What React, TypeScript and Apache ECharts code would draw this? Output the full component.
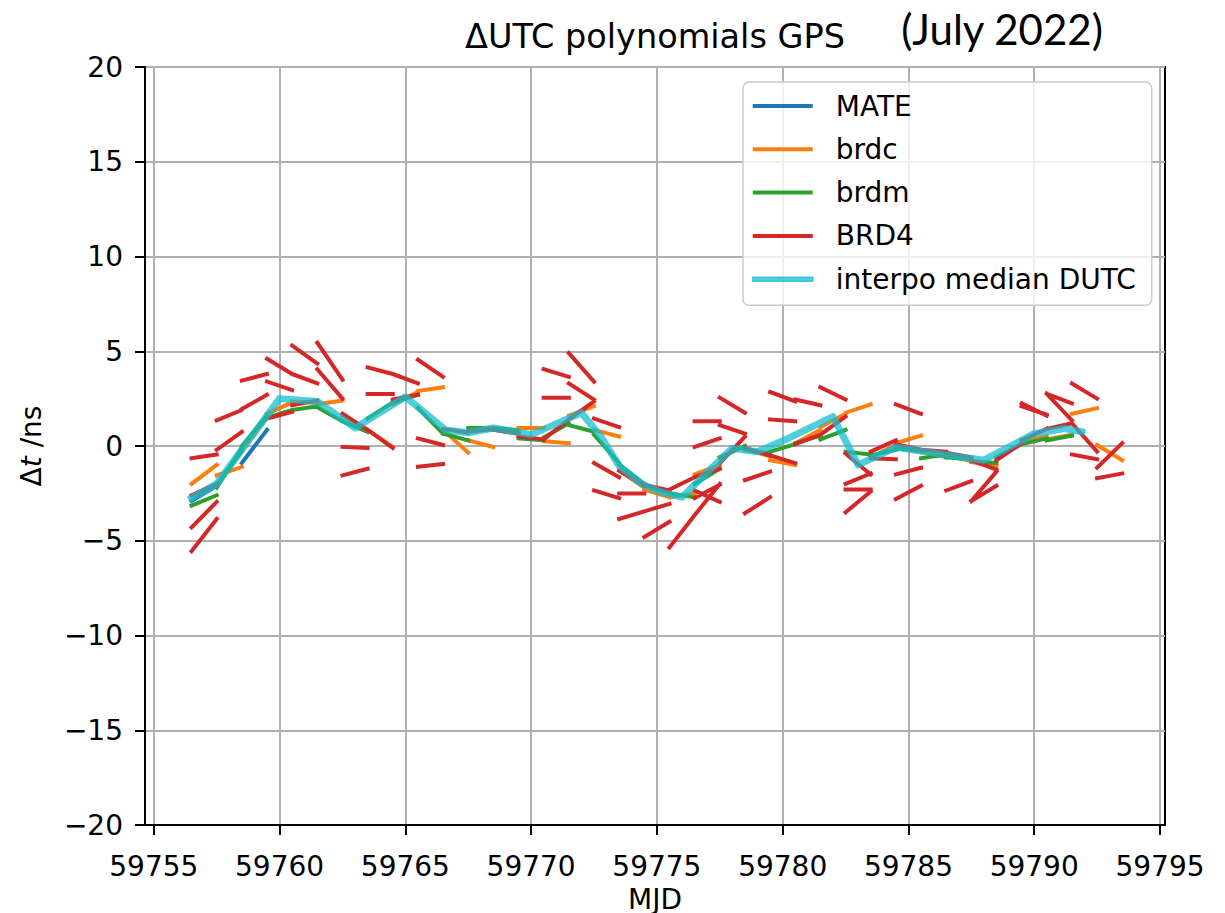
import React, { useEffect, useRef } from "react";
import * as echarts from "echarts";

// ---- axis ticks ----
const X_TICKS = [59755, 59760, 59765, 59770, 59775, 59780, 59785, 59790, 59795];
const X_MIN = 59754.65;
const X_MAX = 59795.2;
const Y_MIN = -20;
const Y_MAX = 20;
const Y_STEP = 5;

// each polynomial is evaluated over one day: [start MJD, Δt at start, Δt at end]
const DAY_SPAN = 1;

const MATE: [number, number, number][] = [
  [59756.5, -2.9, -2.1],
  [59757.5, -2.05, -0.25],
  [59758.5, -0.9, 0.85],
];

const BRDC: [number, number, number][] = [
  [59756.5, -2.0, -1.0],
  [59757.5, -1.55, -1.1],
  [59758.5, -0.2, 1.5],
  [59759.5, 1.7, 2.3],
  [59760.5, 2.35, 2.3],
  [59761.5, 2.2, 2.4],
  [59762.5, 1.6, 0.85],
  [59763.5, 0.85, -0.05],
  [59764.5, 2.2, 2.85],
  [59765.5, 2.9, 3.1],
  [59766.5, 0.85, -0.35],
  [59767.5, 0.3, -0.05],
  [59768.5, 0.95, 0.85],
  [59769.5, 0.95, 0.95],
  [59770.5, 0.25, 0.15],
  [59771.5, 1.6, 2.1],
  [59772.5, 0.85, 0.5],
  [59773.5, -1.3, -2.2],
  [59774.5, -2.3, -2.7],
  [59775.5, -2.7, -2.5],
  [59776.5, -1.5, -1.0],
  [59777.5, -0.6, 0.0],
  [59778.5, -0.15, -0.55],
  [59779.5, -0.75, -1.0],
  [59780.5, 0.15, 0.85],
  [59781.5, 1.0, 1.7],
  [59782.5, 1.75, 2.2],
  [59783.5, -0.6, 0.05],
  [59784.5, 0.15, 0.55],
  [59785.5, -0.3, -0.6],
  [59786.5, -0.5, -0.8],
  [59787.5, -0.85, -1.05],
  [59788.5, -0.6, 0.1],
  [59789.5, 0.2, 0.5],
  [59790.5, 0.35, 0.6],
  [59791.5, 1.7, 2.0],
  [59792.5, 0.05, -0.75],
];

const BRDM: [number, number, number][] = [
  [59756.5, -3.15, -2.6],
  [59757.5, -2.2, -0.1],
  [59758.5, 0.0, 1.6],
  [59759.5, 1.5, 1.9],
  [59760.5, 1.9, 2.1],
  [59761.5, 2.05, 1.3],
  [59762.5, 1.3, 0.75],
  [59763.5, 1.45, 2.3],
  [59764.5, 2.3, 2.7],
  [59765.5, 2.0, 0.65],
  [59766.5, 0.65, 0.3],
  [59767.5, 0.95, 0.95],
  [59768.5, 0.95, 0.8],
  [59769.5, 0.4, 0.3],
  [59770.5, 0.45, 1.2],
  [59771.5, 1.1, 0.75],
  [59772.5, 0.6, -0.9],
  [59773.5, -1.0, -2.0],
  [59774.5, -2.1, -2.45],
  [59775.5, -2.5, -2.7],
  [59776.5, -2.0, -1.2],
  [59777.5, -0.6, 0.0],
  [59778.5, -0.2, -0.4],
  [59779.5, -0.3, 0.1],
  [59780.5, 0.15, 0.55],
  [59781.5, 0.35, 0.85],
  [59782.5, -0.3, -0.45],
  [59783.5, -0.5, -0.2],
  [59784.5, -0.1, -0.3],
  [59785.5, -0.65, -0.45],
  [59786.5, -0.6, -0.7],
  [59787.5, -0.8, -0.9],
  [59788.5, -0.6, 0.1],
  [59789.5, 0.1, 0.4],
  [59790.5, 0.3, 0.55],
];

const BRD4: [number, number, number][] = [
  [59756.5, -5.55, -3.85], [59756.5, -4.3, -2.95], [59756.5, -2.6, -2.0], [59756.5, -0.65, -0.45],
  [59757.5, 1.35, 1.9], [59757.5, -0.2, 0.75],
  [59758.5, 1.95, 2.7], [59758.5, 3.45, 3.8],
  [59759.5, 4.6, 3.8], [59759.5, 3.4, 2.95], [59759.5, 1.45, 1.8],
  [59760.5, 5.3, 4.35], [59760.5, 3.8, 3.3], [59760.5, 2.15, 2.4],
  [59761.5, 5.45, 3.5], [59761.5, 4.05, 2.5],
  [59762.5, 1.7, 0.85], [59762.5, -0.05, -0.1], [59762.5, -1.55, -1.2],
  [59763.5, 4.15, 3.8], [59763.5, 2.75, 2.75], [59763.5, 0.85, -0.1],
  [59764.5, 3.8, 3.3], [59764.5, 2.45, 2.7],
  [59765.5, 4.55, 3.65], [59765.5, 0.4, 0.05], [59765.5, -1.1, -0.95],
  [59766.5, 0.9, 0.7],
  [59767.5, 0.75, 0.9],
  [59768.5, 0.85, 0.65],
  [59769.5, 0.5, 0.35],
  [59770.5, 4.05, 3.65], [59770.5, 2.55, 2.55], [59770.5, 0.35, 1.4],
  [59771.5, 4.9, 3.4], [59771.5, 3.3, 2.45], [59771.5, 1.4, 2.35],
  [59772.5, 1.45, 1.0], [59772.5, -0.9, -1.65], [59772.5, -2.35, -2.75],
  [59773.5, -2.5, -2.5], [59773.5, -3.85, -3.45], [59773.5, -1.3, -2.1],
  [59774.5, -3.45, -3.05], [59774.5, -4.8, -4.0], [59774.5, -2.05, -2.35],
  [59775.5, -5.35, -3.65], [59775.5, -2.3, -1.65],
  [59776.5, -1.65, -1.2], [59776.5, -2.75, -2.05], [59776.5, -2.35, -2.95], [59776.5, -3.65, -2.0],
  [59776.5, 1.3, 1.3], [59776.5, -0.05, 0.4],
  [59777.5, 2.55, 1.75], [59777.5, 1.1, 0.65], [59777.5, -0.9, 0.5],
  [59778.5, -1.8, -1.35], [59778.5, -3.55, -2.7], [59778.5, -0.1, -0.5],
  [59779.5, 2.85, 2.35], [59779.5, 1.4, 1.3], [59779.5, -0.5, -0.9],
  [59780.5, 2.45, 2.15], [59780.5, 0.1, 0.6],
  [59781.5, 3.1, 2.45], [59781.5, 0.6, 1.55],
  [59782.5, -0.4, -1.5], [59782.5, -2.0, -1.45], [59782.5, -2.3, -2.3], [59782.5, -3.5, -2.4],
  [59783.5, -0.3, 0.3], [59783.5, -0.65, -0.7],
  [59784.5, -1.5, -1.15], [59784.5, -2.8, -2.1], [59784.5, 2.2, 1.7], [59784.5, 0.1, -0.2],
  [59785.5, -0.2, -0.3],
  [59786.5, -2.35, -1.85], [59786.5, -0.35, -0.6],
  [59787.5, -0.75, -1.25], [59787.5, -2.9, -1.35], [59787.5, -2.9, -2.1],
  [59788.5, -0.75, 0.15],
  [59789.5, 2.25, 1.6], [59789.5, 2.1, 1.65], [59789.5, 0.3, 0.9],
  [59790.5, 2.75, 2.25], [59790.5, 2.75, 1.35], [59790.5, 0.9, 1.2],
  [59791.5, 3.3, 2.5], [59791.5, -0.45, -0.7], [59791.5, 1.2, -0.3],
  [59792.5, -1.15, 0.15], [59792.5, -1.7, -1.45],
];

const MEDIAN_MJD = [
  59756.5, 59757.5, 59760.0, 59761.5, 59763.0, 59765.0, 59766.6, 59767.5, 59768.5, 59770.0,
  59772.0, 59772.8, 59773.5, 59774.4, 59775.2, 59776.0, 59777.3, 59778.0, 59779.0, 59780.3,
  59782.0, 59783.0, 59784.5, 59786.5, 59788.0, 59790.0, 59791.2, 59791.9,
];
const MEDIAN_DT = [
  -2.75, -2.0, 2.5, 2.35, 0.95, 2.6, 0.85, 0.7, 0.95, 0.6,
  1.75, 0.45, -1.05, -2.0, -2.45, -2.7, -1.0, -0.12, -0.3, 0.45,
  1.55, -1.0, -0.07, -0.47, -0.75, 0.65, 0.92, 0.75,
];

const SERIES_NAMES = ["MATE", "brdc", "brdm", "BRD4", "interpo median DUTC"];
const COLORS = ["#1f77b4", "#ff7f0e", "#2ca02c", "#d62728", "#17becf"];
const MEDIAN_ALPHA = 0.75;

const FONT = "DejaVu Sans";
const TICK_FS = 28;

function segData(segs: [number, number, number][]) {
  const out: (number | null)[][] = [];
  for (const [x, a, b] of segs) {
    out.push([x, a], [x + DAY_SPAN, b], [x + DAY_SPAN, null]);
  }
  return out;
}

function segSeries(name: string, color: string, segs: [number, number, number][]) {
  return {
    name,
    type: "line",
    data: segData(segs),
    symbol: "none",
    showSymbol: false,
    connectNulls: false,
    lineStyle: { color, width: 4, cap: "square", join: "round" },
    itemStyle: { color },
    emphasis: { disabled: true },
  };
}

export default function App() {
  const ref = useRef<HTMLDivElement>(null);

  useEffect(() => {
    if (!ref.current) return;
    const chart = echarts.init(ref.current, null, { renderer: "svg" });
    const medianData = MEDIAN_MJD.map((x, i) => [x, MEDIAN_DT[i]]);
    const medianRgba = "rgba(23,190,207," + MEDIAN_ALPHA + ")";

    chart.setOption({
      animation: false,
      backgroundColor: "#ffffff",
      grid: {
        left: 145,
        right: 60,
        top: 67,
        bottom: 88,
        show: true,
        borderColor: "#000",
        borderWidth: 2,
        containLabel: false,
        outerBoundsMode: "none",
      },
      graphic: [
        {
          type: "text",
          x: 655,
          y: 36,
          style: {
            text: "ΔUTC polynomials GPS",
            fontFamily: FONT,
            fontSize: 33.5,
            fill: "#000",
            align: "center",
            verticalAlign: "middle",
          },
        },
        {
          type: "text",
          x: 1002,
          y: 29,
          style: {
            text: "(July 2022)",
            fontFamily: "Lato",
            fontSize: 42,
            fill: "#000",
            align: "center",
            verticalAlign: "middle",
          },
        },
      ],
      legend: {
        orient: "vertical",
        left: 743,
        top: 82,
        itemWidth: 60,
        itemHeight: 4,
        itemGap: 15.3,
        padding: [10, 16, 12, 9],
        backgroundColor: "rgba(255,255,255,0.8)",
        borderColor: "#cccccc",
        borderWidth: 1.5,
        borderRadius: 6,
        icon: "rect",
        textStyle: { fontFamily: FONT, fontSize: TICK_FS, color: "#000", padding: [0, 0, 0, 18] },
        data: [
          { name: SERIES_NAMES[0], icon: "rect", itemStyle: { color: COLORS[0] } },
          { name: SERIES_NAMES[1], icon: "rect", itemStyle: { color: COLORS[1] } },
          { name: SERIES_NAMES[2], icon: "rect", itemStyle: { color: COLORS[2] } },
          { name: SERIES_NAMES[3], icon: "rect", itemStyle: { color: COLORS[3] } },
          {
            name: SERIES_NAMES[4],
            icon: "rect",
            itemStyle: { color: medianRgba, borderColor: medianRgba, borderWidth: 1.5 },
          },
        ],
      },
      xAxis: {
        type: "value",
        min: X_MIN,
        max: X_MAX,
        name: "MJD",
        nameLocation: "middle",
        nameGap: 60,
        nameMoveOverlap: false,
        nameTextStyle: { fontFamily: FONT, fontSize: TICK_FS, color: "#000" },
        axisLine: { show: true, onZero: false, lineStyle: { color: "#000", width: 2 } },
        axisTick: { show: true, length: 10, lineStyle: { color: "#000", width: 2 }, customValues: X_TICKS },
        axisLabel: {
          customValues: X_TICKS,
          fontFamily: FONT,
          fontSize: TICK_FS,
          color: "#000",
          margin: 27,
          formatter: (v: number) => String(v),
        },
        splitLine: { show: true, lineStyle: { color: "#b0b0b0", width: 2 } },
      },
      yAxis: {
        type: "value",
        min: Y_MIN,
        max: Y_MAX,
        interval: Y_STEP,
        name: "{d|Δ}{t|t}{d| /ns}",
        nameLocation: "middle",
        nameGap: 100,
        nameRotate: 90,
        nameTextStyle: {
          rich: {
            d: { fontFamily: FONT, fontSize: TICK_FS, color: "#000" },
            t: { fontFamily: FONT, fontSize: TICK_FS, color: "#000", fontStyle: "italic" },
          },
        },
        axisLine: { show: true, onZero: false, lineStyle: { color: "#000", width: 2 } },
        axisTick: { show: true, length: 10, lineStyle: { color: "#000", width: 2 } },
        axisLabel: {
          fontFamily: FONT,
          fontSize: TICK_FS,
          color: "#000",
          margin: 22,
          formatter: (v: number) => (v < 0 ? "\u2212" + Math.abs(v) : String(v)),
        },
        splitLine: { show: true, lineStyle: { color: "#b0b0b0", width: 2 } },
      },
      series: [
        segSeries(SERIES_NAMES[0], COLORS[0], MATE),
        segSeries(SERIES_NAMES[1], COLORS[1], BRDC),
        segSeries(SERIES_NAMES[2], COLORS[2], BRDM),
        segSeries(SERIES_NAMES[3], COLORS[3], BRD4),
        {
          name: SERIES_NAMES[4],
          type: "line",
          data: medianData,
          symbol: "none",
          showSymbol: false,
          lineStyle: { color: COLORS[4], width: 7, opacity: MEDIAN_ALPHA, cap: "square", join: "round" },
          itemStyle: { color: COLORS[4] },
          emphasis: { disabled: true },
        },
      ],
    });

    return () => chart.dispose();
  }, []);

  return (
    <div
      ref={ref}
      style={{ position: "absolute", left: 0, top: 0, width: 1225, height: 913, background: "#fff" }}
    />
  );
}
